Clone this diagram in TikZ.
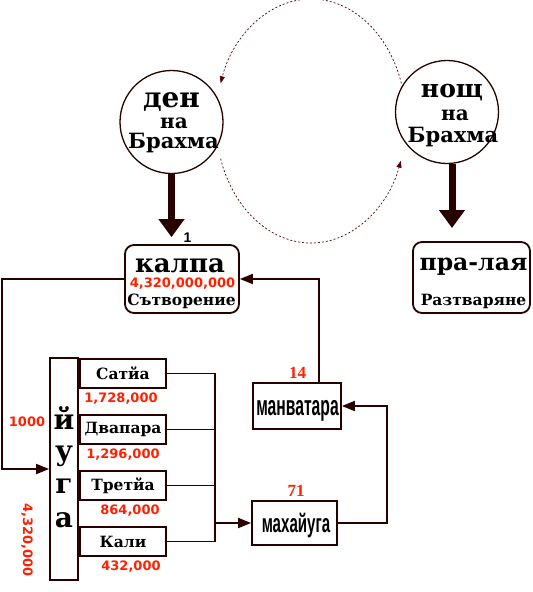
\documentclass[tikz,border=0pt]{standalone}
\usepackage{fontspec}
\setmainfont{DejaVu Serif}
\newfontfamily\numfont{DejaVu Sans}
\newfontfamily\narrowfont{Liberation Sans}
\newfontfamily\labelfont{Liberation Serif}
\usetikzlibrary{arrows.meta}
\definecolor{linecol}{RGB}{40,0,0}
\definecolor{numred}{RGB}{255,32,0}
\definecolor{cyclecol}{RGB}{90,0,0}

\begin{document}
\begin{tikzpicture}[x=1pt, y=-1pt,
  link/.style = {draw=linecol, line width=1.8pt},
  tip/.style = {-{Triangle[length=13pt,width=10pt]}},
  heavy/.style = {draw=linecol, line width=7pt, -{Triangle[length=18pt,width=25pt]}},
  cyclearc/.style = {draw=cyclecol, line width=0.7pt, dash pattern=on 2pt off 2pt,
    -{Triangle[length=7pt,width=5pt]}},
  brahma/.style = {circle, draw=linecol, line width=1.3pt, minimum size=103pt},
  period/.style = {rectangle, rounded corners=9pt, draw=linecol, line width=1.8pt},
  box/.style = {rectangle, draw=linecol, line width=1.8pt},
  agebox/.style = {box, minimum width=86pt, minimum height=29pt,
    font=\bfseries\fontsize{15.5}{15.5}\selectfont},
  word/.style = {anchor=base, inner sep=0pt, font=\bfseries\fontsize{#1}{#1}\selectfont},
  redword/.style = {anchor=base, inner sep=0pt, text=numred,
    font=\numfont\bfseries\fontsize{#1}{#1}\selectfont},
  redlabel/.style = {anchor=base, inner sep=0pt, text=numred,
    font=\labelfont\bfseries\fontsize{17}{17}\selectfont},
  narrow/.style = {anchor=base, inner sep=0pt, font=\narrowfont\bfseries\fontsize{#1}{#1}\selectfont}]

  \fill[white] (0,0) rectangle (533,592);
  \useasboundingbox (0,0) rectangle (533,592);

  % day and night of Brahma
  \node[brahma] (den) at (171.5,122) {};
  \node[word=28] (denA) at (171.5,107) {ден};
  \node[word=20] (denB) at (174,128) {на};
  \node[word=21] (denC) at (173.5,148) {Брахма};

  \node[brahma] (nosht) at (447,112) {};
  \node[word=25] (noshtA) at (452,97) {нощ};
  \node[word=20] (noshtB) at (455,120) {на};
  \node[word=21] (noshtC) at (453,142) {Брахма};

  % the dashed cycle between them
  \coordinate (cyc) at (311,121);
  \draw[cyclearc] ([shift={(18:95pt and 122pt)}]cyc)
    arc[start angle=18, end angle=162, x radius=95pt, y radius=122pt];
  \draw[cyclearc] ([shift={(198:95pt and 122pt)}]cyc)
    arc[start angle=198, end angle=341, x radius=95pt, y radius=122pt];

  % kalpa and pralaya
  \node[period, minimum width=114pt, minimum height=68pt] (kalpa) at (182,279) {};
  \node[word=26] (kalpaA) at (180,272) {калпа};
  \node[redword=13] (kalpaB) at (182.5,287) {4,320,000,000};
  \node[word=15.5] (kalpaC) at (181.5,305) {Сътворение};
  \node[narrow=14] (one) at (187.5,242) {1};

  \node[period, minimum width=117pt, minimum height=71pt] (pralaya) at (471.5,277.5) {};
  \node[word=23.5] (pralayaA) at (473.5,270) {пра-лая};
  \node[word=15.5] (pralayaB) at (473.5,305) {Разтваряне};

  \draw[heavy] (den.south) -- ([yshift=7pt]kalpa.north -| den.south);
  \coordinate (nightend) at (452,228);
  \draw[heavy] (nosht.south -| nightend) -- (nightend);

  % yuga column
  \node[box, minimum width=28pt, minimum height=222pt] (yuga) at (64,469) {};
  \node[word=28] (yugaA) at (64,429) {й};
  \node[word=28] (yugaB) at (64,460) {у};
  \node[word=28] (yugaC) at (64,493) {г};
  \node[word=28] (yugaD) at (64,527) {а};
  \node[redword=13] (thousand) at (27,426) {1000};
  \node[text=numred, font=\numfont\bfseries\fontsize{13}{13}\selectfont,
    rotate=-90, inner sep=0pt] (yugaN) at (27,540) {4,320,000};

  % the four ages
  \node[agebox] (satya) at (123,373.5) {Сатйа};
  \node[agebox] (dvapara) at (123,429.5) {Двапара};
  \node[agebox] (tretya) at (123,485.5) {Третйа};
  \node[agebox] (kali) at (123,541.5) {Кали};
  \node[redword=13] (satyaN) at (121,402) {1,728,000};
  \node[redword=13] (dvaparaN) at (123,458) {1,296,000};
  \node[redword=13] (tretyaN) at (130,514) {864,000};
  \node[redword=13] (kaliN) at (131,570) {432,000};

  % mahayuga and manvatara
  \node[box, minimum width=88pt, minimum height=46pt] (manvatara) at (297,406) {};
  \node[narrow=28] (manvataraT) at (297.5,415) {\scalebox{0.56}[1]{манватара}};
  \node[redlabel] (fourteen) at (297.5,378) {14};

  \node[box, minimum width=85pt, minimum height=44pt] (mahayuga) at (294.5,523) {};
  \node[narrow=26] (mahayugaT) at (296,532) {\scalebox{0.58}[1]{махайуга}};
  \node[redlabel] (seventyone) at (296,496) {71};

  % connectors
  \coordinate (rail) at (2,0);
  \coordinate (bus) at (215,0);
  \coordinate (rrail) at (387,0);
  \coordinate (uprail) at (319,0);
  \draw[link, tip] (kalpa.west) -- (kalpa.west -| rail) -- (rail |- yuga.west) -- (yuga.west);
  \draw[link] (satya.east) -- (satya.east -| bus) -- (kali.east -| bus) -- (kali.east)
    (dvapara.east) -- (dvapara.east -| bus)
    (tretya.east) -- (tretya.east -| bus);
  \draw[link, tip] (mahayuga.west -| bus) -- (mahayuga.west);
  \draw[link, tip] (mahayuga.east) -- (mahayuga.east -| rrail) -- (rrail |- manvatara.east)
    -- (manvatara.east);
  \draw[link, tip] (manvatara.north -| uprail) -- (uprail |- kalpa.east) -- (kalpa.east);
\end{tikzpicture}
\end{document}
